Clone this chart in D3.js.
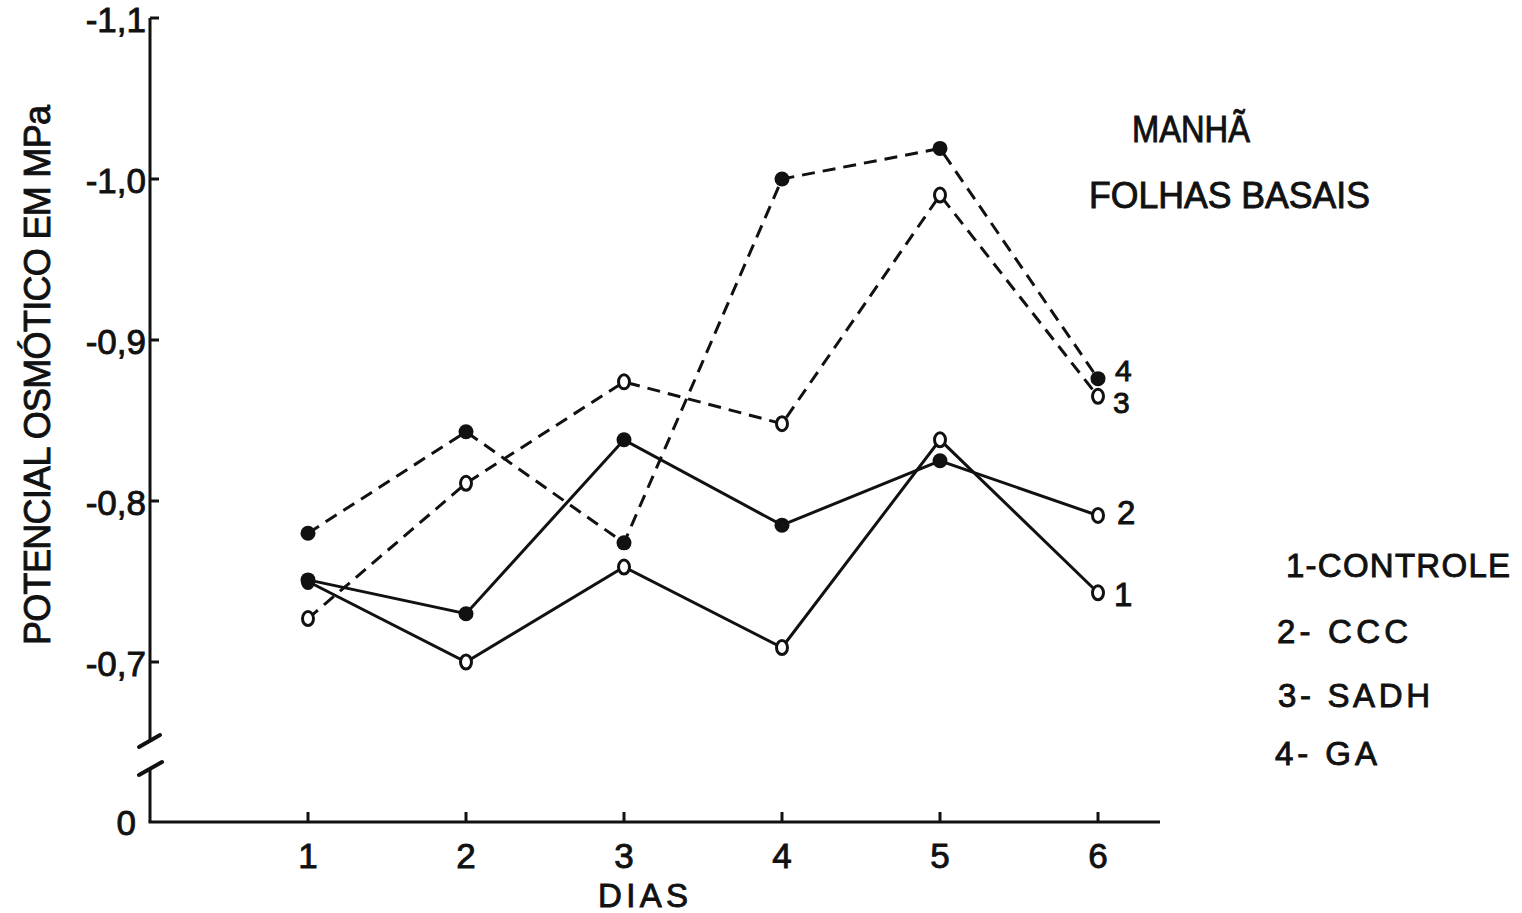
<!DOCTYPE html>
<html>
<head>
<meta charset="utf-8">
<script src="https://cdn.jsdelivr.net/npm/d3@7"></script>
<style>
  html, body { margin: 0; padding: 0; background: #fff; }
  svg text { font-family: "Liberation Sans", Arial, sans-serif; fill: #111; stroke: #111; stroke-width: 0.9px; }
</style>
</head>
<body>
<svg id="chart" width="1522" height="913"></svg>
<script>
// ---- data ----
const days = [1, 2, 3, 4, 5, 6];
const yTicks = [-1.1, -1.0, -0.9, -0.8, -0.7];
const yTickLabels = ["-1,1", "-1,0", "-0,9", "-0,8", "-0,7"];
const controle = [-0.750, -0.700, -0.759, -0.709, -0.838, -0.743];
const ccc      = [-0.751, -0.730, -0.838, -0.785, -0.825, -0.791];
const sadh     = [-0.727, -0.811, -0.874, -0.848, -0.990, -0.865];
const ga       = [-0.780, -0.843, -0.774, -1.000, -1.019, -0.876];
const seriesIds = ["1", "2", "3", "4"];
const legendLabels = ["1-CONTROLE", "2- CCC", "3- SADH", "4- GA"];
const yTitle = "POTENCIAL OSMÓTICO EM MPa";
const xTitle = "DIAS";
const titleLines = ["MANHÃ", "FOLHAS BASAIS"];

const series = [
  { id: "1", values: controle, dashed: false, filled: false },
  { id: "2", values: ccc,      dashed: false, filled: true  },
  { id: "3", values: sadh,     dashed: true,  filled: false },
  { id: "4", values: ga,       dashed: true,  filled: true  }
];

// ---- layout ----
const svg = d3.select("#chart");
const axisX = 150, zeroY = 822, xEnd = 1160;
const x = d3.scaleLinear().domain([1, 6]).range([308, 1098]);
const y = d3.scaleLinear().domain([-0.7, -1.1]).range([662, 18]);
const ink = "#111";

// y axis (upper part, broken)
const g = svg.append("g");
g.append("line").attr("x1", axisX).attr("x2", axisX).attr("y1", y(-1.1)).attr("y2", 740)
  .attr("stroke", ink).attr("stroke-width", 3);
// break marks
g.append("line").attr("x1", 139).attr("y1", 747).attr("x2", 160).attr("y2", 735)
  .attr("stroke", ink).attr("stroke-width", 4).attr("stroke-linecap", "round");
g.append("line").attr("x1", 139).attr("y1", 775).attr("x2", 162).attr("y2", 762)
  .attr("stroke", ink).attr("stroke-width", 4).attr("stroke-linecap", "round");
g.append("line").attr("x1", axisX).attr("x2", axisX).attr("y1", 768).attr("y2", zeroY)
  .attr("stroke", ink).attr("stroke-width", 3);

// y ticks
yTicks.forEach((t, i) => {
  g.append("line").attr("x1", axisX).attr("x2", axisX + 9).attr("y1", y(t)).attr("y2", y(t))
    .attr("stroke", ink).attr("stroke-width", 3);
  g.append("text").attr("x", 146).attr("y", y(t) + 14).attr("text-anchor", "end")
    .attr("font-size", 35).text(yTickLabels[i]);
});
g.append("text").attr("x", 136).attr("y", zeroY + 13).attr("text-anchor", "end")
  .attr("font-size", 35).text("0");

// x axis
g.append("line").attr("x1", axisX - 1.5).attr("x2", xEnd).attr("y1", zeroY).attr("y2", zeroY)
  .attr("stroke", ink).attr("stroke-width", 3);
days.forEach(d => {
  g.append("line").attr("x1", x(d)).attr("x2", x(d)).attr("y1", zeroY).attr("y2", zeroY - 10)
    .attr("stroke", ink).attr("stroke-width", 3);
  g.append("text").attr("x", x(d)).attr("y", 868).attr("text-anchor", "middle")
    .attr("font-size", 35).text(d);
});
g.append("text").attr("x", 643).attr("y", 907).attr("text-anchor", "middle")
  .attr("font-size", 33).attr("textLength", 90).attr("lengthAdjust", "spacing").text(xTitle);

// y title
g.append("text").attr("transform", "translate(50,375) rotate(-90)").attr("text-anchor", "middle")
  .attr("font-size", 36).attr("textLength", 540).attr("lengthAdjust", "spacing").text(yTitle);

// lines
const line = d3.line().x((v, i) => x(days[i])).y(v => y(v));
series.forEach(s => {
  svg.append("path").attr("d", line(s.values)).attr("fill", "none").attr("stroke", ink)
    .attr("stroke-width", 3).attr("stroke-dasharray", s.dashed ? "13,8" : null);
});

// markers
series.forEach(s => {
  s.values.forEach((v, i) => {
    const hollow = !s.filled || (s.id === "2" && days[i] === 6);
    if (hollow) {
      svg.append("ellipse").attr("cx", x(days[i])).attr("cy", y(v)).attr("rx", 5.5).attr("ry", 7)
        .attr("fill", "#fff").attr("stroke", ink).attr("stroke-width", 3);
    } else {
      svg.append("circle").attr("cx", x(days[i])).attr("cy", y(v)).attr("r", 7.5).attr("fill", ink);
    }
  });
});

// end-of-line labels
const endOffsets = { "1": 16, "2": 19, "3": 15, "4": 17 };
const endDy = { "1": 13, "2": 9, "3": 17, "4": 2 };
series.forEach(s => {
  const v = s.values[s.values.length - 1];
  svg.append("text").attr("x", x(6) + endOffsets[s.id]).attr("y", y(v) + endDy[s.id])
    .attr("font-size", s.id === "3" || s.id === "4" ? 30 : 33).text(s.id);
});

// titles
svg.append("text").attr("x", 1191).attr("y", 142).attr("text-anchor", "middle")
  .attr("font-size", 36).attr("textLength", 118).attr("lengthAdjust", "spacingAndGlyphs").text(titleLines[0]);
svg.append("text").attr("x", 1089).attr("y", 208)
  .attr("font-size", 36).attr("textLength", 281).attr("lengthAdjust", "spacingAndGlyphs").text(titleLines[1]);

// legend
const legendPos = [
  { x: 1286, y: 577, w: 224 },
  { x: 1277, y: 643, w: 131 },
  { x: 1278, y: 707, w: 152 },
  { x: 1275, y: 765, w: 102 }
];
legendLabels.forEach((t, i) => {
  svg.append("text").attr("x", legendPos[i].x).attr("y", legendPos[i].y)
    .attr("font-size", 33).attr("textLength", legendPos[i].w).attr("lengthAdjust", "spacing").text(t);
});
</script>
</body>
</html>
